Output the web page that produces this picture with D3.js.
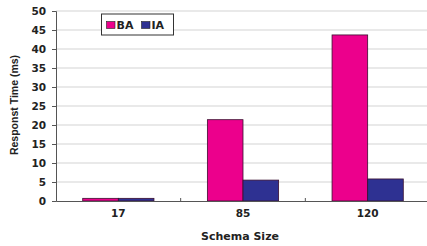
<!DOCTYPE html>
<html>
<head>
<meta charset="utf-8">
<script src="https://cdn.jsdelivr.net/npm/d3@7"></script>
<style>
  body { margin: 0; background: #fff; }
  text { font-family: "DejaVu Sans", sans-serif; font-weight: bold; }
</style>
</head>
<body>
<div id="chart"></div>
<script>
// data
const categories = ['17', '85', '120'];
const seriesNames = ['BA', 'IA'];
const baValues = [0.7, 21.4, 43.7];
const iaValues = [0.7, 5.5, 5.8];
const yTicks = [0, 5, 10, 15, 20, 25, 30, 35, 40, 45, 50];

const colors = { BA: '#ec008c', IA: '#2e3192' };

const W = 427, H = 246;
const margin = { top: 11, right: -3, bottom: 45, left: 56 };
const width = W - margin.left - margin.right,
      height = H - margin.top - margin.bottom;

const svg = d3.select('#chart').append('svg')
    .attr('width', W).attr('height', H);
const g = svg.append('g').attr('transform', `translate(${margin.left},${margin.top})`);

const x = d3.scaleBand().domain(categories).range([0, width]);
const x1 = d3.scaleBand().domain(seriesNames).range([0, x.bandwidth()]).paddingOuter(0.75).paddingInner(0);
const y = d3.scaleLinear().domain([0, 50]).range([height, 0]);

// gridlines
g.selectAll('line.grid').data(yTicks.slice(1)).enter().append('line')
    .attr('x1', 0).attr('x2', width)
    .attr('y1', d => y(d)).attr('y2', d => y(d))
    .attr('stroke', '#d4d4d4').attr('stroke-width', 1.2);

// bars
const rows = categories.map((c, i) => ({ cat: c, BA: baValues[i], IA: iaValues[i] }));
const groups = g.selectAll('g.grp').data(rows).enter().append('g')
    .attr('transform', d => `translate(${x(d.cat)},0)`);
groups.selectAll('rect').data(d => seriesNames.map(k => ({ key: k, value: d[k] })))
  .enter().append('rect')
    .attr('x', d => x1(d.key))
    .attr('y', d => y(d.value))
    .attr('width', x1.bandwidth())
    .attr('height', d => y(0) - y(d.value))
    .attr('fill', d => colors[d.key])
    .attr('stroke', '#3a1030').attr('stroke-width', 0.8);

// y axis
const yAxis = g.append('g')
    .call(d3.axisLeft(y).tickValues(yTicks).tickSize(4).tickPadding(6));
yAxis.select('.domain').attr('stroke', '#555');
yAxis.selectAll('.tick line').attr('stroke', '#555');
yAxis.selectAll('text').attr('font-size', 10.5).attr('fill', '#222');

// x axis
const xAxis = g.append('g').attr('transform', `translate(0,${height})`)
    .call(d3.axisBottom(x).tickSize(0).tickPadding(9));
xAxis.select('.domain').attr('stroke', '#555');
xAxis.selectAll('text').attr('font-size', 10.5).attr('fill', '#222');
// category separators
g.selectAll('line.sep').data(categories.slice(1)).enter().append('line')
    .attr('x1', d => x(d)).attr('x2', d => x(d))
    .attr('y1', height).attr('y2', height - 3)
    .attr('stroke', '#555');

// axis titles
svg.append('text')
    .attr('x', 240).attr('y', 240)
    .attr('text-anchor', 'middle').attr('font-size', 11).attr('fill', '#222')
    .text('Schema Size');
svg.append('text')
    .attr('transform', 'translate(17.5,105) rotate(-90)')
    .attr('text-anchor', 'middle').attr('font-size', 10.5).attr('fill', '#222')
    .style('font-family', '"Liberation Sans", Arial, sans-serif')
    .text('Responst Time (ms)');

// legend
const lg = svg.append('g').attr('transform', 'translate(101.5,14)');
lg.append('rect').attr('width', 72).attr('height', 21)
    .attr('fill', '#fff').attr('stroke', '#333').attr('stroke-width', 1);
seriesNames.forEach((k, i) => {
  const ox = 5 + i * 35;
  lg.append('rect').attr('x', ox).attr('y', 7.5).attr('width', 8.5).attr('height', 7)
      .attr('fill', colors[k]).attr('stroke', '#222').attr('stroke-width', 0.6);
  lg.append('text').attr('x', ox + 10).attr('y', 15).attr('font-size', 11).attr('fill', '#222')
      .text(k);
});
</script>
</body>
</html>
